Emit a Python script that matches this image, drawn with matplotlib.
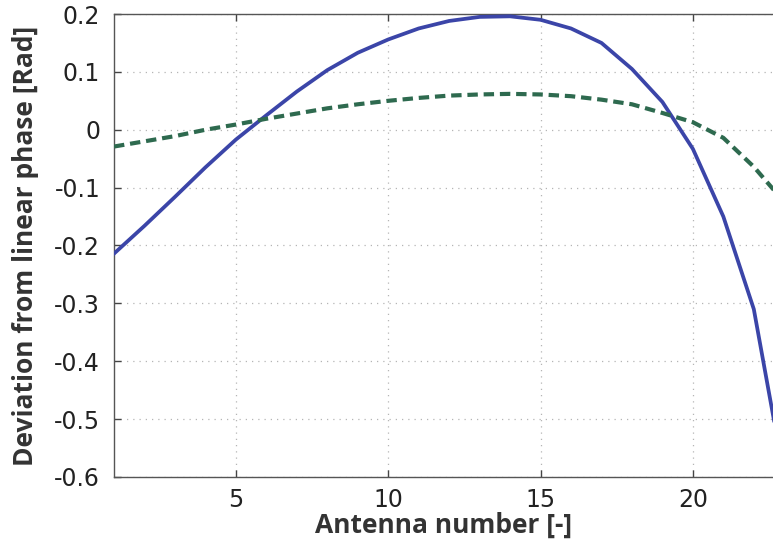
import matplotlib
matplotlib.use("Agg")
import matplotlib.pyplot as plt

antenna = list(range(1, 24))
dev_solid = [-0.214, -0.166, -0.116, -0.065, -0.017, 0.025, 0.066, 0.103, 0.133,
             0.156, 0.175, 0.188, 0.195, 0.196, 0.190, 0.175, 0.150, 0.105,
             0.048, -0.033, -0.150, -0.310, -0.600]
dev_dashed = [-0.029, -0.020, -0.011, 0.000, 0.009, 0.019, 0.028, 0.037, 0.044,
              0.050, 0.055, 0.059, 0.061, 0.062, 0.061, 0.058, 0.052, 0.044,
              0.029, 0.013, -0.014, -0.064, -0.125]
xticks = [5, 10, 15, 20]
yticks = [0.2, 0.1, 0, -0.1, -0.2, -0.3, -0.4, -0.5, -0.6]
ytick_labels = ["0.2", "0.1", "0", "-0.1", "-0.2", "-0.3", "-0.4", "-0.5", "-0.6"]

label_font = ["Open Sans", "DejaVu Sans"]
tick_font = ["DejaVu Sans"]

fig = plt.figure(figsize=(7.73, 5.45), dpi=100)
ax = fig.add_axes([0.1475, 0.1248, 0.8525, 0.8495])

ax.plot(antenna, dev_solid, color="#3b45a8", lw=2.7, zorder=3)
ax.plot(antenna, dev_dashed, color="#2e6a4f", lw=3.0, dashes=(2.5, 1.4), zorder=3)

ax.set_xlim(1, 22.63)
ax.set_ylim(-0.6, 0.2)
ax.set_xticks(xticks)
ax.set_yticks(yticks)
ax.set_yticklabels(ytick_labels)

ax.grid(True, color="#b5b5b5", linestyle=(0, (1, 4)), linewidth=0.9)
ax.tick_params(direction="in", length=5, width=1, colors="#444444", top=True, right=False,
               labelsize=17, labelcolor="#222222")
ax.tick_params(axis="y", pad=10)
ax.tick_params(axis="x", pad=8)
for lbl in ax.get_xticklabels() + ax.get_yticklabels():
    lbl.set_fontfamily(tick_font)

for side in ["left", "bottom", "top"]:
    ax.spines[side].set_color("#555555")
    ax.spines[side].set_linewidth(1.0)
ax.spines["right"].set_visible(False)

ax.set_xlabel("Antenna number [-]", fontsize=19, fontweight="bold", family=label_font,
              color="#333333", labelpad=0)
ax.set_ylabel("Deviation from linear phase [Rad]", fontsize=19, fontweight="bold",
              family=label_font, color="#333333")
ax.yaxis.set_label_coords(-0.114, 0.5)

fig.savefig("out.png", dpi=100)
